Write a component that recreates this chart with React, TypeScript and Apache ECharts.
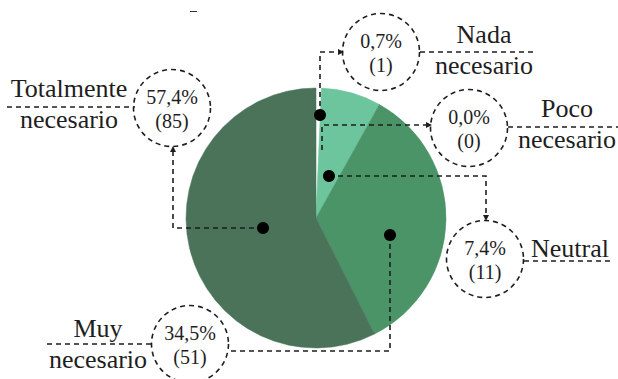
import React, { useEffect, useRef } from "react";
import * as echarts from "echarts";

// Survey answers, in clockwise order starting at 12 o'clock
const categories = ["Nada necesario", "Poco necesario", "Neutral", "Muy necesario", "Totalmente necesario"];
const counts = [1, 0, 11, 51, 85];
const sliceColors = ["#ffffff", "#d9efe3", "#6cc59c", "#4a9468", "#4a7359"];

// Category name split over lines, as written beside each bubble
const nameLines = [["Nada", "necesario"], ["Poco", "necesario"], ["Neutral"], ["Muy", "necesario"], ["Totalmente", "necesario"]];

const INK = "#1e1e1e";
const DASH = [5, 4];
const SERIF = "Liberation Serif";

// Callout layout per category: bubble centre, name position, underline, leader path, marker dot
const callouts = [
  { bubble: [381, 52], name: [484, 34], underline: [[420, 52], [535, 52]], path: [[320, 115], [320, 52], [338, 52]], arrow: "right", dot: [320, 115] },
  { bubble: [469, 128], name: [567, 108], underline: [[508, 127], [618, 127]], path: [[322, 150], [322, 125], [426, 125]], arrow: "right", dot: null },
  { bubble: [485, 259], name: [570, 248], underline: [[524, 261], [612, 261]], path: [[329, 176], [486, 176], [486, 215]], arrow: "down", dot: [329, 176] },
  { bubble: [190, 344], name: [98, 328], underline: [[47, 344], [152, 344]], path: [[390, 235], [390, 351], [229, 351]], arrow: null, dot: [390, 235] },
  { bubble: [172, 108], name: [69, 88], underline: [[7, 107], [135, 107]], path: [[263, 228], [173, 228], [173, 152]], arrow: "up", dot: [263, 228] },
];

const total = counts.reduce((a, b) => a + b, 0);
const pctText = (v: number) => (v / total * 100).toFixed(1).replace(".", ",") + "%";

function arrowHead(end: number[], dir: string) {
  const [x, y] = end;
  const len = 6;
  const w = 3;
  let pts: number[][] = [];
  if (dir === "right") pts = [[x + len, y], [x, y - w], [x, y + w]];
  if (dir === "down") pts = [[x, y + len], [x - w, y], [x + w, y]];
  if (dir === "up") pts = [[x, y - len], [x - w, y], [x + w, y]];
  return { type: "polygon", shape: { points: pts }, style: { fill: INK }, z: 20 };
}

function textEl(x: number, y: number, text: string, size: number) {
  return {
    type: "text",
    x,
    y,
    style: { text, fontFamily: SERIF, fontSize: size, fill: INK, align: "center", verticalAlign: "middle" },
    z: 11,
  };
}

export default function App() {
  const ref = useRef<HTMLDivElement>(null);

  useEffect(() => {
    if (!ref.current) return;
    const chart = echarts.init(ref.current, null, { renderer: "svg" });

    const graphics: any[] = [];
    callouts.forEach((c, i) => {
      const [bx, by] = c.bubble;
      // dashed bubble with percentage and count
      graphics.push({
        type: "circle",
        shape: { cx: bx, cy: by, r: 38.5 },
        style: { fill: "none", stroke: INK, lineWidth: 1.6, lineDash: DASH },
        z: 10,
      });
      graphics.push(textEl(bx, by - 11, pctText(counts[i]), 20));
      graphics.push(textEl(bx, by + 13, "(" + counts[i] + ")", 20));
      // category name
      nameLines[i].forEach((line, k) => {
        graphics.push(textEl(c.name[0], c.name[1] + k * 31, line, 26));
      });
      // dashed underline between the name lines
      graphics.push({
        type: "polyline",
        shape: { points: c.underline },
        style: { fill: "none", stroke: INK, lineWidth: 1.6, lineDash: DASH },
        z: 10,
      });
      // leader from the slice to the bubble
      graphics.push({
        type: "polyline",
        shape: { points: c.path },
        style: { fill: "none", stroke: INK, lineWidth: 1.6, lineDash: DASH },
        z: 20,
      });
      if (c.arrow) graphics.push(arrowHead(c.path[c.path.length - 1], c.arrow));
      if (c.dot) {
        graphics.push({
          type: "circle",
          shape: { cx: c.dot[0], cy: c.dot[1], r: 6 },
          style: { fill: "#000" },
          z: 21,
        });
      }
    });
    // small stray mark at the top
    graphics.push({
      type: "line",
      shape: { x1: 190, y1: 11.5, x2: 197, y2: 11.5 },
      style: { stroke: "#333", lineWidth: 1 },
    });

    chart.setOption({
      animation: false,
      backgroundColor: "#ffffff",
      series: [
        {
          type: "pie",
          center: [316, 218],
          radius: 130,
          startAngle: 90,
          clockwise: true,
          silent: true,
          label: { show: false },
          labelLine: { show: false },
          data: categories.map((name, i) => ({
            name,
            value: counts[i],
            itemStyle: {
              color: sliceColors[i],
              borderColor: i === 0 ? "#ffffff" : sliceColors[i],
              borderWidth: i === 0 ? 2 : 0.5,
            },
          })),
        },
      ],
      graphic: graphics,
    });

    return () => chart.dispose();
  }, []);

  return <div ref={ref} style={{ position: "absolute", left: 0, top: 0, width: 618, height: 379 }} />;
}
